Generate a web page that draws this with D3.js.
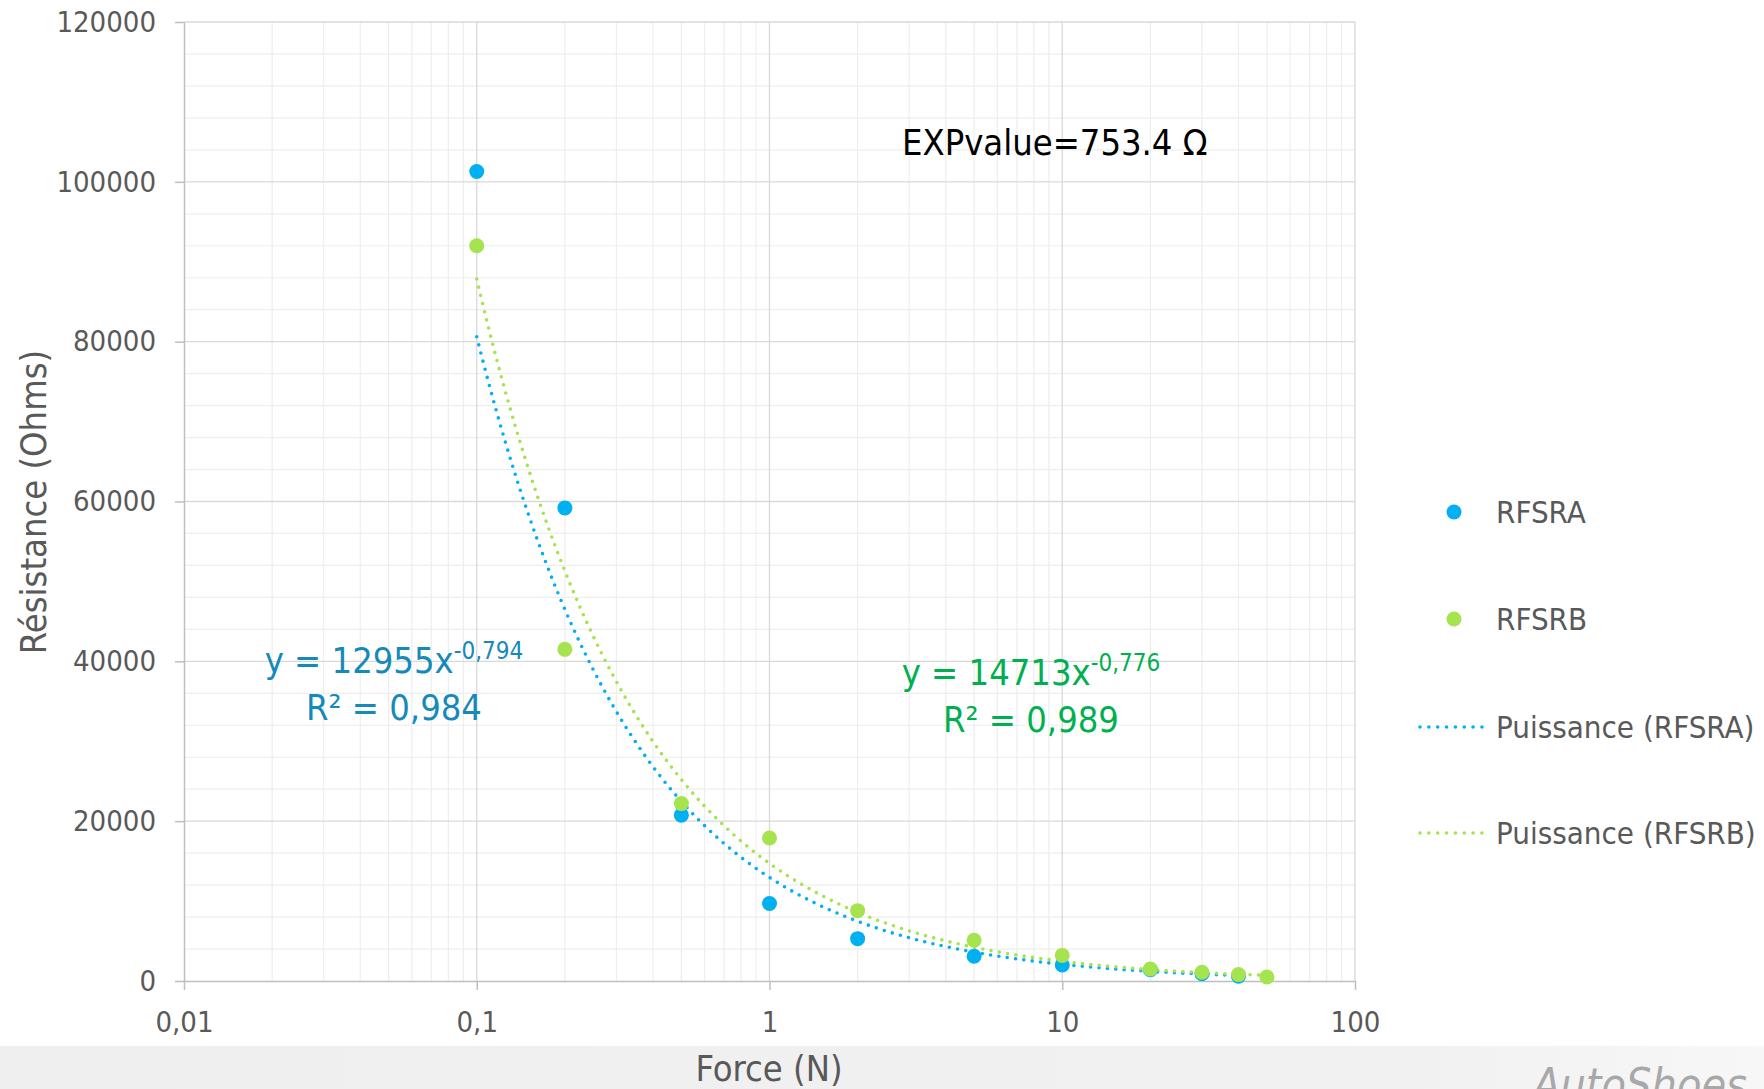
<!DOCTYPE html>
<html><head><meta charset="utf-8">
<script src="https://cdn.jsdelivr.net/npm/d3@7"></script>
<style>
html,body{margin:0;padding:0;background:#fff;}
svg{display:block;}
text{font-family:"DejaVu Sans Condensed","DejaVu Sans",sans-serif;}
</style></head>
<body>
<svg id="c" width="1764" height="1089"></svg>
<script>
// ---- data ----
const forceA = [0.1, 0.2, 0.5, 1, 2, 5, 10, 20, 30, 40];
const resA   = [101300, 59200, 20750, 9700, 5300, 3100, 2000, 1400, 900, 600];
const forceB = [0.1, 0.2, 0.5, 1, 2, 5, 10, 20, 30, 40, 50];
const resB   = [92000, 41500, 22200, 17900, 8800, 5100, 3200, 1500, 1100, 800, 500];
// power trendlines y = a * x^b, as given by the chart labels
const trendA = {a: 12955, b: -0.794, from: 0.1, to: 40};
const trendB = {a: 14713, b: -0.776, from: 0.1, to: 50};
const seriesNames = ["RFSRA", "RFSRB", "Puissance (RFSRA)", "Puissance (RFSRB)"];
const xTickValues = [0.01, 0.1, 1, 10, 100];
const xTickLabels = ["0,01", "0,1", "1", "10", "100"];
const yTickValues = [0, 20000, 40000, 60000, 80000, 100000, 120000];
const yTickLabels = ["0", "20000", "40000", "60000", "80000", "100000", "120000"];

const colA = "#00b0f0", colB = "#a5e34f";
const eqColA = "#1689bb", eqColB = "#00b050";

const svg = d3.select("#c");
const L = 184, R = 1355, T = 22, B = 981;
const x = d3.scaleLog().domain([0.01, 100]).range([L, R]);
const y = d3.scaleLinear().domain([0, 120000]).range([B, T]);

// bottom strip
const defs = svg.append("defs");
const g = defs.append("linearGradient").attr("id","strip").attr("x1","0").attr("x2","1");
g.append("stop").attr("offset","0").attr("stop-color","#efefef");
g.append("stop").attr("offset","0.8").attr("stop-color","#f1f1f1");
g.append("stop").attr("offset","1").attr("stop-color","#f7f7f7");
svg.append("rect").attr("x",0).attr("y",1046).attr("width",1764).attr("height",43).attr("fill","url(#strip)");
svg.append("text").attr("x",1533).attr("y",1100).attr("font-size",44).attr("font-style","italic")
  .attr("textLength",214).attr("lengthAdjust","spacingAndGlyphs")
  .attr("fill","#a8a8a8").text("AutoShoes");

// grid
const grid = svg.append("g");
const minorY = d3.range(0, 120001, 4000).filter(v => v % 20000 !== 0);
grid.selectAll(".my").data(minorY).join("line")
  .attr("x1", L).attr("x2", R).attr("y1", d => y(d)).attr("y2", d => y(d))
  .attr("stroke", "#eeeeee").attr("stroke-width", 1.2);
const minorX = [];
[0.01, 0.1, 1, 10].forEach(dec => { for (let k = 2; k <= 9; k++) minorX.push(dec * k); });
grid.selectAll(".mx").data(minorX).join("line")
  .attr("x1", d => x(d)).attr("x2", d => x(d)).attr("y1", T).attr("y2", B)
  .attr("stroke", "#eeeeee").attr("stroke-width", 1.2);
grid.selectAll(".My").data(yTickValues.slice(1)).join("line")
  .attr("x1", L).attr("x2", R).attr("y1", d => y(d)).attr("y2", d => y(d))
  .attr("stroke", "#d9d9d9").attr("stroke-width", 1.3);
grid.selectAll(".Mx").data(xTickValues.slice(1)).join("line")
  .attr("x1", d => x(d)).attr("x2", d => x(d)).attr("y1", T).attr("y2", B)
  .attr("stroke", "#d9d9d9").attr("stroke-width", 1.3);

// axes
const yAxis = d3.axisLeft(y).tickValues(yTickValues).tickSize(9).tickSizeOuter(0).tickPadding(19)
  .tickFormat((d, i) => yTickLabels[i]);
const gy = svg.append("g").attr("transform", `translate(${L},0)`).call(yAxis);
const xAxis = d3.axisBottom(x).tickValues(xTickValues).tickSize(9).tickSizeOuter(0).tickPadding(21)
  .tickFormat((d, i) => xTickLabels[i]);
const gx = svg.append("g").attr("transform", `translate(0,${B})`).call(xAxis);
[gx, gy].forEach(a => {
  a.select(".domain").attr("stroke", "#bfbfbf").attr("stroke-width", 1.5);
  a.selectAll(".tick line").attr("stroke", "#bfbfbf").attr("stroke-width", 1.5);
  a.selectAll(".tick text").attr("fill", "#595959").attr("font-size", 29)
   .style("font-family", "'DejaVu Sans Condensed','DejaVu Sans',sans-serif");
});

// axis titles
svg.append("text").attr("x", 769).attr("y", 1081).attr("text-anchor", "middle")
  .attr("font-size", 36).attr("fill", "#595959").text("Force (N)");
svg.append("text").attr("transform", "translate(46,502) rotate(-90)").attr("text-anchor", "middle")
  .attr("font-size", 36).attr("fill", "#595959").text("Résistance (Ohms)");

// trendlines
function trendPts(t) {
  const n = 200, lo = Math.log10(t.from), hi = Math.log10(t.to);
  return d3.range(n + 1).map(i => { const xv = Math.pow(10, lo + (hi - lo) * i / n); return [xv, t.a * Math.pow(xv, t.b)]; });
}
const line = d3.line().x(d => x(d[0])).y(d => y(d[1]));
[[trendA, colA], [trendB, colB]].forEach(([t, c]) => {
  svg.append("path").attr("d", line(trendPts(t))).attr("fill", "none").attr("stroke", c)
    .attr("stroke-width", 3.6).attr("stroke-linecap", "round").attr("stroke-dasharray", "0 8.4");
});

// points
svg.append("g").selectAll("circle").data(forceA.map((f, i) => [f, resA[i]])).join("circle")
  .attr("cx", d => x(d[0])).attr("cy", d => y(d[1])).attr("r", 7.5).attr("fill", colA);
svg.append("g").selectAll("circle").data(forceB.map((f, i) => [f, resB[i]])).join("circle")
  .attr("cx", d => x(d[0])).attr("cy", d => y(d[1])).attr("r", 7.5).attr("fill", colB);

// annotation texts
svg.append("text").attr("x", 902).attr("y", 155).attr("font-size", 36).attr("fill", "#000")
  .text("EXPvalue=753.4 Ω");

function eq(xc, y1, y2, a, b, r2, col) {
  const t = svg.append("text").attr("x", xc).attr("y", y1).attr("text-anchor", "middle").attr("fill", col).attr("font-size", 36);
  t.append("tspan").text("y = " + a + "x");
  t.append("tspan").attr("font-size", 24).attr("dy", -14).text(b);
  svg.append("text").attr("x", xc).attr("y", y2).attr("text-anchor", "middle").attr("fill", col).attr("font-size", 36)
    .text("R² = " + r2);
}
eq(394, 673, 720, "12955", "-0,794", "0,984", eqColA);
eq(1031, 685, 732, "14713", "-0,776", "0,989", eqColB);

// legend
const lg = svg.append("g");
const rows = [512, 619, 727, 833];
lg.append("circle").attr("cx", 1454).attr("cy", rows[0]).attr("r", 7.5).attr("fill", colA);
lg.append("circle").attr("cx", 1454).attr("cy", rows[1]).attr("r", 7.5).attr("fill", colB);
[[rows[2], colA], [rows[3], colB]].forEach(([ry, c]) => {
  lg.append("line").attr("x1", 1420).attr("x2", 1482).attr("y1", ry).attr("y2", ry).attr("stroke", c)
    .attr("stroke-width", 3.6).attr("stroke-linecap", "round").attr("stroke-dasharray", "0 8.85");
});
seriesNames.forEach((n, i) => {
  lg.append("text").attr("x", 1496).attr("y", rows[i] + 11).attr("font-size", 31).attr("fill", "#595959").text(n);
});
</script>
</body></html>
